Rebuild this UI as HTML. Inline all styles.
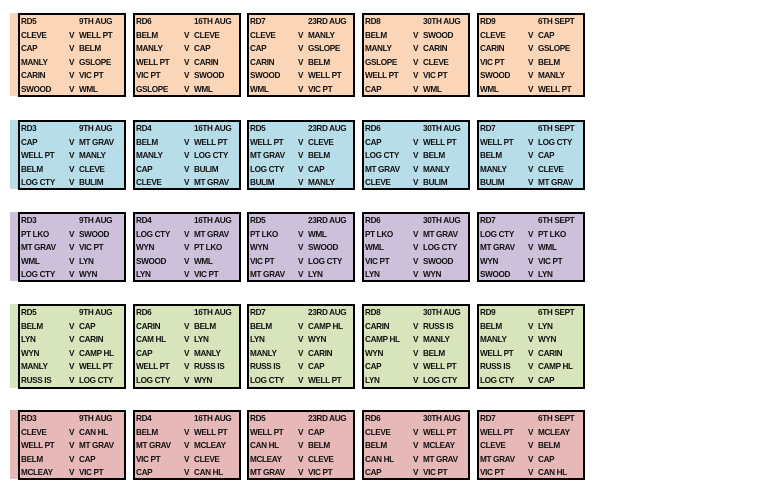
<!DOCTYPE html>
<html><head><meta charset="utf-8"><style>
body{margin:0;width:780px;height:504px;background:#fff;position:relative;overflow:hidden;font-family:"Liberation Sans",Arial,sans-serif;font-weight:bold;font-size:8.2px;color:#111;letter-spacing:-0.35px}
.s{position:absolute;left:10px;width:9px}
.b{position:absolute;width:104px;border:2px solid #000;box-sizing:content-box}
.r{position:relative;height:13.5px;line-height:13.5px}
.r span{position:absolute;top:0;white-space:nowrap}
.a{left:1px}.v{left:49px}.c{left:59px}
.p{background:#FBD5B8}.bl{background:#B7DDE8}.pu{background:#CCC0DA}.g{background:#D8E4BC}.pk{background:#E6B8B7}
</style></head><body>

<div class="s p" style="top:13px;height:83px"></div>
<div class="b p" style="left:18px;top:13px;height:80px"><div class="r"><span class="a">RD5</span><span class="c">9TH AUG</span></div><div class="r"><span class="a">CLEVE</span><span class="v">V</span><span class="c">WELL PT</span></div><div class="r"><span class="a">CAP</span><span class="v">V</span><span class="c">BELM</span></div><div class="r"><span class="a">MANLY</span><span class="v">V</span><span class="c">GSLOPE</span></div><div class="r"><span class="a">CARIN</span><span class="v">V</span><span class="c">VIC PT</span></div><div class="r"><span class="a">SWOOD</span><span class="v">V</span><span class="c">WML</span></div></div>
<div class="b p" style="left:133px;top:13px;height:80px"><div class="r"><span class="a">RD6</span><span class="c">16TH AUG</span></div><div class="r"><span class="a">BELM</span><span class="v">V</span><span class="c">CLEVE</span></div><div class="r"><span class="a">MANLY</span><span class="v">V</span><span class="c">CAP</span></div><div class="r"><span class="a">WELL PT</span><span class="v">V</span><span class="c">CARIN</span></div><div class="r"><span class="a">VIC PT</span><span class="v">V</span><span class="c">SWOOD</span></div><div class="r"><span class="a">GSLOPE</span><span class="v">V</span><span class="c">WML</span></div></div>
<div class="b p" style="left:247px;top:13px;height:80px"><div class="r"><span class="a">RD7</span><span class="c">23RD AUG</span></div><div class="r"><span class="a">CLEVE</span><span class="v">V</span><span class="c">MANLY</span></div><div class="r"><span class="a">CAP</span><span class="v">V</span><span class="c">GSLOPE</span></div><div class="r"><span class="a">CARIN</span><span class="v">V</span><span class="c">BELM</span></div><div class="r"><span class="a">SWOOD</span><span class="v">V</span><span class="c">WELL PT</span></div><div class="r"><span class="a">WML</span><span class="v">V</span><span class="c">VIC PT</span></div></div>
<div class="b p" style="left:362px;top:13px;height:80px"><div class="r"><span class="a">RD8</span><span class="c">30TH AUG</span></div><div class="r"><span class="a">BELM</span><span class="v">V</span><span class="c">SWOOD</span></div><div class="r"><span class="a">MANLY</span><span class="v">V</span><span class="c">CARIN</span></div><div class="r"><span class="a">GSLOPE</span><span class="v">V</span><span class="c">CLEVE</span></div><div class="r"><span class="a">WELL PT</span><span class="v">V</span><span class="c">VIC PT</span></div><div class="r"><span class="a">CAP</span><span class="v">V</span><span class="c">WML</span></div></div>
<div class="b p" style="left:477px;top:13px;height:80px"><div class="r"><span class="a">RD9</span><span class="c">6TH SEPT</span></div><div class="r"><span class="a">CLEVE</span><span class="v">V</span><span class="c">CAP</span></div><div class="r"><span class="a">CARIN</span><span class="v">V</span><span class="c">GSLOPE</span></div><div class="r"><span class="a">VIC PT</span><span class="v">V</span><span class="c">BELM</span></div><div class="r"><span class="a">SWOOD</span><span class="v">V</span><span class="c">MANLY</span></div><div class="r"><span class="a">WML</span><span class="v">V</span><span class="c">WELL PT</span></div></div>

<div class="s bl" style="top:120px;height:69px"></div>
<div class="b bl" style="left:18px;top:120px;height:66px"><div class="r"><span class="a">RD3</span><span class="c">9TH AUG</span></div><div class="r"><span class="a">CAP</span><span class="v">V</span><span class="c">MT GRAV</span></div><div class="r"><span class="a">WELL PT</span><span class="v">V</span><span class="c">MANLY</span></div><div class="r"><span class="a">BELM</span><span class="v">V</span><span class="c">CLEVE</span></div><div class="r"><span class="a">LOG CTY</span><span class="v">V</span><span class="c">BULIM</span></div></div>
<div class="b bl" style="left:133px;top:120px;height:66px"><div class="r"><span class="a">RD4</span><span class="c">16TH AUG</span></div><div class="r"><span class="a">BELM</span><span class="v">V</span><span class="c">WELL PT</span></div><div class="r"><span class="a">MANLY</span><span class="v">V</span><span class="c">LOG CTY</span></div><div class="r"><span class="a">CAP</span><span class="v">V</span><span class="c">BULIM</span></div><div class="r"><span class="a">CLEVE</span><span class="v">V</span><span class="c">MT GRAV</span></div></div>
<div class="b bl" style="left:247px;top:120px;height:66px"><div class="r"><span class="a">RD5</span><span class="c">23RD AUG</span></div><div class="r"><span class="a">WELL PT</span><span class="v">V</span><span class="c">CLEVE</span></div><div class="r"><span class="a">MT GRAV</span><span class="v">V</span><span class="c">BELM</span></div><div class="r"><span class="a">LOG CTY</span><span class="v">V</span><span class="c">CAP</span></div><div class="r"><span class="a">BULIM</span><span class="v">V</span><span class="c">MANLY</span></div></div>
<div class="b bl" style="left:362px;top:120px;height:66px"><div class="r"><span class="a">RD6</span><span class="c">30TH AUG</span></div><div class="r"><span class="a">CAP</span><span class="v">V</span><span class="c">WELL PT</span></div><div class="r"><span class="a">LOG CTY</span><span class="v">V</span><span class="c">BELM</span></div><div class="r"><span class="a">MT GRAV</span><span class="v">V</span><span class="c">MANLY</span></div><div class="r"><span class="a">CLEVE</span><span class="v">V</span><span class="c">BULIM</span></div></div>
<div class="b bl" style="left:477px;top:120px;height:66px"><div class="r"><span class="a">RD7</span><span class="c">6TH SEPT</span></div><div class="r"><span class="a">WELL PT</span><span class="v">V</span><span class="c">LOG CTY</span></div><div class="r"><span class="a">BELM</span><span class="v">V</span><span class="c">CAP</span></div><div class="r"><span class="a">MANLY</span><span class="v">V</span><span class="c">CLEVE</span></div><div class="r"><span class="a">BULIM</span><span class="v">V</span><span class="c">MT GRAV</span></div></div>

<div class="s pu" style="top:212px;height:69px"></div>
<div class="b pu" style="left:18px;top:212px;height:66px"><div class="r"><span class="a">RD3</span><span class="c">9TH AUG</span></div><div class="r"><span class="a">PT LKO</span><span class="v">V</span><span class="c">SWOOD</span></div><div class="r"><span class="a">MT GRAV</span><span class="v">V</span><span class="c">VIC PT</span></div><div class="r"><span class="a">WML</span><span class="v">V</span><span class="c">LYN</span></div><div class="r"><span class="a">LOG CTY</span><span class="v">V</span><span class="c">WYN</span></div></div>
<div class="b pu" style="left:133px;top:212px;height:66px"><div class="r"><span class="a">RD4</span><span class="c">16TH AUG</span></div><div class="r"><span class="a">LOG CTY</span><span class="v">V</span><span class="c">MT GRAV</span></div><div class="r"><span class="a">WYN</span><span class="v">V</span><span class="c">PT LKO</span></div><div class="r"><span class="a">SWOOD</span><span class="v">V</span><span class="c">WML</span></div><div class="r"><span class="a">LYN</span><span class="v">V</span><span class="c">VIC PT</span></div></div>
<div class="b pu" style="left:247px;top:212px;height:66px"><div class="r"><span class="a">RD5</span><span class="c">23RD AUG</span></div><div class="r"><span class="a">PT LKO</span><span class="v">V</span><span class="c">WML</span></div><div class="r"><span class="a">WYN</span><span class="v">V</span><span class="c">SWOOD</span></div><div class="r"><span class="a">VIC PT</span><span class="v">V</span><span class="c">LOG CTY</span></div><div class="r"><span class="a">MT GRAV</span><span class="v">V</span><span class="c">LYN</span></div></div>
<div class="b pu" style="left:362px;top:212px;height:66px"><div class="r"><span class="a">RD6</span><span class="c">30TH AUG</span></div><div class="r"><span class="a">PT LKO</span><span class="v">V</span><span class="c">MT GRAV</span></div><div class="r"><span class="a">WML</span><span class="v">V</span><span class="c">LOG CTY</span></div><div class="r"><span class="a">VIC PT</span><span class="v">V</span><span class="c">SWOOD</span></div><div class="r"><span class="a">LYN</span><span class="v">V</span><span class="c">WYN</span></div></div>
<div class="b pu" style="left:477px;top:212px;height:66px"><div class="r"><span class="a">RD7</span><span class="c">6TH SEPT</span></div><div class="r"><span class="a">LOG CTY</span><span class="v">V</span><span class="c">PT LKO</span></div><div class="r"><span class="a">MT GRAV</span><span class="v">V</span><span class="c">WML</span></div><div class="r"><span class="a">WYN</span><span class="v">V</span><span class="c">VIC PT</span></div><div class="r"><span class="a">SWOOD</span><span class="v">V</span><span class="c">LYN</span></div></div>

<div class="s g" style="top:304px;height:84px"></div>
<div class="b g" style="left:18px;top:304px;height:81px"><div class="r"><span class="a">RD5</span><span class="c">9TH AUG</span></div><div class="r"><span class="a">BELM</span><span class="v">V</span><span class="c">CAP</span></div><div class="r"><span class="a">LYN</span><span class="v">V</span><span class="c">CARIN</span></div><div class="r"><span class="a">WYN</span><span class="v">V</span><span class="c">CAMP HL</span></div><div class="r"><span class="a">MANLY</span><span class="v">V</span><span class="c">WELL PT</span></div><div class="r"><span class="a">RUSS IS</span><span class="v">V</span><span class="c">LOG CTY</span></div></div>
<div class="b g" style="left:133px;top:304px;height:81px"><div class="r"><span class="a">RD6</span><span class="c">16TH AUG</span></div><div class="r"><span class="a">CARIN</span><span class="v">V</span><span class="c">BELM</span></div><div class="r"><span class="a">CAM HL</span><span class="v">V</span><span class="c">LYN</span></div><div class="r"><span class="a">CAP</span><span class="v">V</span><span class="c">MANLY</span></div><div class="r"><span class="a">WELL PT</span><span class="v">V</span><span class="c">RUSS IS</span></div><div class="r"><span class="a">LOG CTY</span><span class="v">V</span><span class="c">WYN</span></div></div>
<div class="b g" style="left:247px;top:304px;height:81px"><div class="r"><span class="a">RD7</span><span class="c">23RD AUG</span></div><div class="r"><span class="a">BELM</span><span class="v">V</span><span class="c">CAMP HL</span></div><div class="r"><span class="a">LYN</span><span class="v">V</span><span class="c">WYN</span></div><div class="r"><span class="a">MANLY</span><span class="v">V</span><span class="c">CARIN</span></div><div class="r"><span class="a">RUSS IS</span><span class="v">V</span><span class="c">CAP</span></div><div class="r"><span class="a">LOG CTY</span><span class="v">V</span><span class="c">WELL PT</span></div></div>
<div class="b g" style="left:362px;top:304px;height:81px"><div class="r"><span class="a">RD8</span><span class="c">30TH AUG</span></div><div class="r"><span class="a">CARIN</span><span class="v">V</span><span class="c">RUSS IS</span></div><div class="r"><span class="a">CAMP HL</span><span class="v">V</span><span class="c">MANLY</span></div><div class="r"><span class="a">WYN</span><span class="v">V</span><span class="c">BELM</span></div><div class="r"><span class="a">CAP</span><span class="v">V</span><span class="c">WELL PT</span></div><div class="r"><span class="a">LYN</span><span class="v">V</span><span class="c">LOG CTY</span></div></div>
<div class="b g" style="left:477px;top:304px;height:81px"><div class="r"><span class="a">RD9</span><span class="c">6TH SEPT</span></div><div class="r"><span class="a">BELM</span><span class="v">V</span><span class="c">LYN</span></div><div class="r"><span class="a">MANLY</span><span class="v">V</span><span class="c">WYN</span></div><div class="r"><span class="a">WELL PT</span><span class="v">V</span><span class="c">CARIN</span></div><div class="r"><span class="a">RUSS IS</span><span class="v">V</span><span class="c">CAMP HL</span></div><div class="r"><span class="a">LOG CTY</span><span class="v">V</span><span class="c">CAP</span></div></div>

<div class="s pk" style="top:410px;height:69px"></div>
<div class="b pk" style="left:18px;top:410px;height:66px"><div class="r"><span class="a">RD3</span><span class="c">9TH AUG</span></div><div class="r"><span class="a">CLEVE</span><span class="v">V</span><span class="c">CAN HL</span></div><div class="r"><span class="a">WELL PT</span><span class="v">V</span><span class="c">MT GRAV</span></div><div class="r"><span class="a">BELM</span><span class="v">V</span><span class="c">CAP</span></div><div class="r"><span class="a">MCLEAY</span><span class="v">V</span><span class="c">VIC PT</span></div></div>
<div class="b pk" style="left:133px;top:410px;height:66px"><div class="r"><span class="a">RD4</span><span class="c">16TH AUG</span></div><div class="r"><span class="a">BELM</span><span class="v">V</span><span class="c">WELL PT</span></div><div class="r"><span class="a">MT GRAV</span><span class="v">V</span><span class="c">MCLEAY</span></div><div class="r"><span class="a">VIC PT</span><span class="v">V</span><span class="c">CLEVE</span></div><div class="r"><span class="a">CAP</span><span class="v">V</span><span class="c">CAN HL</span></div></div>
<div class="b pk" style="left:247px;top:410px;height:66px"><div class="r"><span class="a">RD5</span><span class="c">23RD AUG</span></div><div class="r"><span class="a">WELL PT</span><span class="v">V</span><span class="c">CAP</span></div><div class="r"><span class="a">CAN HL</span><span class="v">V</span><span class="c">BELM</span></div><div class="r"><span class="a">MCLEAY</span><span class="v">V</span><span class="c">CLEVE</span></div><div class="r"><span class="a">MT GRAV</span><span class="v">V</span><span class="c">VIC PT</span></div></div>
<div class="b pk" style="left:362px;top:410px;height:66px"><div class="r"><span class="a">RD6</span><span class="c">30TH AUG</span></div><div class="r"><span class="a">CLEVE</span><span class="v">V</span><span class="c">WELL PT</span></div><div class="r"><span class="a">BELM</span><span class="v">V</span><span class="c">MCLEAY</span></div><div class="r"><span class="a">CAN HL</span><span class="v">V</span><span class="c">MT GRAV</span></div><div class="r"><span class="a">CAP</span><span class="v">V</span><span class="c">VIC PT</span></div></div>
<div class="b pk" style="left:477px;top:410px;height:66px"><div class="r"><span class="a">RD7</span><span class="c">6TH SEPT</span></div><div class="r"><span class="a">WELL PT</span><span class="v">V</span><span class="c">MCLEAY</span></div><div class="r"><span class="a">CLEVE</span><span class="v">V</span><span class="c">BELM</span></div><div class="r"><span class="a">MT GRAV</span><span class="v">V</span><span class="c">CAP</span></div><div class="r"><span class="a">VIC PT</span><span class="v">V</span><span class="c">CAN HL</span></div></div>
</body></html>
